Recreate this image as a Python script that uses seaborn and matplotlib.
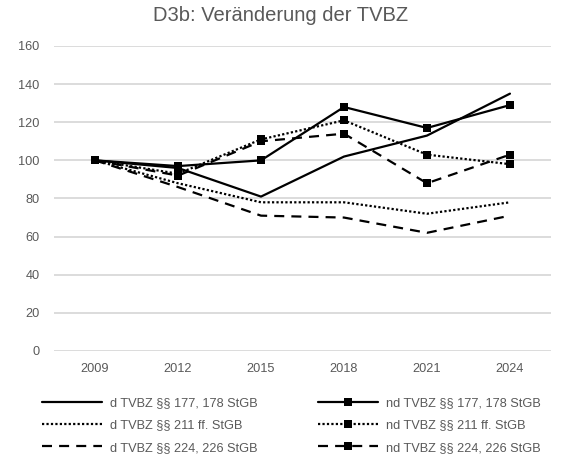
import matplotlib
matplotlib.use("Agg")
import matplotlib.pyplot as plt
import seaborn as sns
import pandas as pd

years = ["2009", "2012", "2015", "2018", "2021", "2024"]

d_177 = [100, 96, 81, 102, 113, 135]
nd_177 = [100, 97, 100, 128, 117, 129]
d_211 = [100, 88, 78, 78, 72, 78]
nd_211 = [100, 93, 111, 121, 103, 98]
d_224 = [100, 86, 71, 70, 62, 71]
nd_224 = [100, 92, 110, 114, 88, 103]

labels = [
    "d TVBZ §§ 177, 178 StGB",
    "d TVBZ §§ 211 ff. StGB",
    "d TVBZ §§ 224, 226 StGB",
    "nd TVBZ §§ 177, 178 StGB",
    "nd TVBZ §§ 211 ff. StGB",
    "nd TVBZ §§ 224, 226 StGB",
]
values = [d_177, d_211, d_224, nd_177, nd_211, nd_224]

sns.set_style("white")
plt.rcParams["font.family"] = ["Liberation Sans", "DejaVu Sans"]

grey = "#595959"
styles = {
    "solid": "-",
    "dotted": (0, (1, 1)),
    "dashed": (0, (4.5, 3.2)),
}
line_styles = ["solid", "dotted", "dashed"] * 2
markers = [None, None, None, "s", "s", "s"]

fig = plt.figure(figsize=(5.61, 4.59), dpi=100)
ax = fig.add_axes([0.0954, 0.2353, 0.8876, 0.6645])

handles = []
for lab, vals, ls, mk in zip(labels, values, line_styles, markers):
    df = pd.DataFrame({"Jahr": years, "Wert": vals})
    sns.lineplot(data=df, x="Jahr", y="Wert", ax=ax, color="black",
                 linestyle=styles[ls], linewidth=1.6, marker=mk,
                 markersize=5.6, markeredgewidth=0, label=lab, legend=False,
                 dash_capstyle="butt")
    handles.append(ax.lines[-1])

ax.set_xlim(-0.5, 5.5)
ax.set_ylim(0, 160)
ax.set_yticks(range(0, 161, 20))
ax.set_xlabel("")
ax.set_ylabel("")
ax.grid(axis="y", color="#d9d9d9", linewidth=1.3)
ax.set_axisbelow(True)
for s in ax.spines.values():
    s.set_visible(False)
ax.tick_params(axis="both", length=0, labelsize=9.2, colors=grey)
ax.tick_params(axis="x", pad=9)
ax.tick_params(axis="y", pad=10)

fig.text(0.5, 0.967, "D3b: Veränderung der TVBZ", ha="center", va="center",
         fontsize=14.5, color=grey)

leg_kw = dict(frameon=False, fontsize=9.2, handlelength=4.7,
              handletextpad=0.65, labelspacing=0.82, borderpad=0,
              borderaxespad=0, labelcolor=grey, loc="upper left")
leg1 = fig.legend(handles[:3], labels[:3], bbox_to_anchor=(42 / 561, 1 - 397 / 459), **leg_kw)
leg2 = fig.legend(handles[3:], labels[3:], bbox_to_anchor=(318 / 561, 1 - 397 / 459), **leg_kw)

fig.savefig("out.png", dpi=100)
